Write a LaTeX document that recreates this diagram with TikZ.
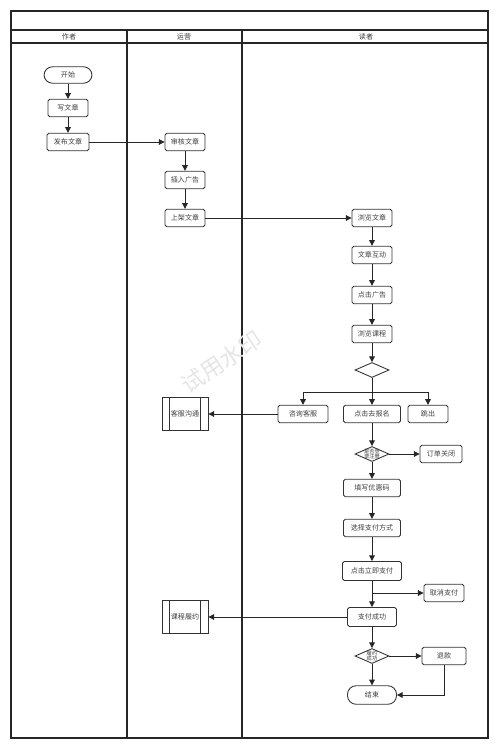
\documentclass[tikz,border=0pt]{standalone}
\usepackage{fontspec}
\setmainfont{Noto Sans CJK SC}
\usetikzlibrary{shapes.geometric,arrows.meta}
\begin{document}
\begin{tikzpicture}[x=0.02cm,y=-0.02cm,
  font=\fontsize{4}{4.6}\selectfont,
  box/.style={draw=black!80,rounded corners=1pt,line width=0.5pt,minimum height=0.35cm,minimum width=0.8cm,inner sep=0pt,fill=white,text=black!75},
  term/.style={box,rounded corners=0.17cm},
  dec/.style={draw=black!80,diamond,line width=0.5pt,minimum width=0.68cm,minimum height=0.3cm,inner sep=0pt,fill=white},
  dtext/.style={font=\fontsize{3}{3.3}\selectfont,align=center,text=black!75,inner sep=0pt},
  pproc/.style={box,rounded corners=0pt,minimum width=0.92cm,minimum height=0.66cm},
  arr/.style={-{Triangle[length=3.2pt,width=3.2pt]},line width=0.5pt,draw=black!85},
  lane/.style={line width=0.6pt,draw=black!85},
  head/.style={text=black!75,inner sep=0pt}]
\useasboundingbox (0,0) rectangle (500,750);
% frame
\draw[lane] (11,11) rectangle (488,738);
\draw[lane] (11,30) -- (488,30);
\draw[lane] (11,43) -- (488,43);
\draw[lane] (127,30) -- (127,738);
\draw[lane] (242,30) -- (242,738);
\node[head] (h1) at (69,37) {作者};
\node[head] (h2) at (184,37) {运营};
\node[head] (h3) at (366,37) {读者};
% watermark
\node[text=black!10,rotate=34,font=\fontsize{13}{13}\selectfont] (wm) at (222,362) {试用水印};
% author lane
\node[term,minimum width=0.96cm,minimum height=0.33cm] (start) at (68,75) {开始};
\node[box] (write) at (68,108) {写文章};
\node[box,minimum width=0.84cm] (pub) at (68,142) {发布文章};
% ops lane
\node[box] (audit) at (185,142) {审核文章};
\node[box] (ad) at (185,180) {插入广告};
\node[box] (shelf) at (185,218) {上架文章};
\node[pproc] (kf) at (185,414) {客服沟通};
\draw[line width=0.5pt,draw=black!80] ([xshift=0.16cm]kf.north west) -- ([xshift=0.16cm]kf.south west);
\draw[line width=0.5pt,draw=black!80] ([xshift=-0.16cm]kf.north east) -- ([xshift=-0.16cm]kf.south east);
\node[pproc] (ly) at (185,617) {课程履约};
\draw[line width=0.5pt,draw=black!80] ([xshift=0.16cm]ly.north west) -- ([xshift=0.16cm]ly.south west);
\draw[line width=0.5pt,draw=black!80] ([xshift=-0.16cm]ly.north east) -- ([xshift=-0.16cm]ly.south east);
% reader lane
\node[box] (browse) at (372,218) {浏览文章};
\node[box] (inter) at (372,255) {文章互动};
\node[box] (clickad) at (372,295) {点击广告};
\node[box] (course) at (372,334) {浏览课程};
\node[dec] (d1) at (372,370) {};
\coordinate (br) at (372,392);
\node[box,minimum width=1cm] (zx) at (303,414) {咨询客服};
\node[box,minimum width=1.14cm] (bm) at (372,414) {点击去报名};
\node[box] (tc) at (428,414) {跳出};
\node[dec] (d2) at (372,454) {};
\node[dtext] (d2t) at (372,454) {是否登\\录注册};
\node[box,minimum width=0.84cm] (close) at (441,454) {订单关闭};
\node[box,minimum width=1.14cm] (yhm) at (372,488) {填写优惠码};
\node[box,minimum width=1.14cm] (zffs) at (372,528) {选择支付方式};
\node[box,minimum width=1.18cm,minimum height=0.38cm] (pay) at (372,571) {点击立即支付};
\node[box] (cancel) at (444,593) {取消支付};
\node[box,minimum width=0.98cm,minimum height=0.38cm] (succ) at (372,617) {支付成功};
\node[dec] (d3) at (372,656) {};
\node[dtext] (d3t) at (372,656) {履约\\成功};
\node[box,minimum width=0.88cm] (tk) at (444,656) {退款};
\node[term,minimum width=0.98cm,minimum height=0.37cm] (end) at (372,695) {结束};
% connectors
\draw[arr] (start) -- (write);
\draw[arr] (write) -- (pub);
\draw[arr] (pub) -- (audit);
\draw[arr] (audit) -- (ad);
\draw[arr] (ad) -- (shelf);
\draw[arr] (shelf) -- (browse);
\draw[arr] (browse) -- (inter);
\draw[arr] (inter) -- (clickad);
\draw[arr] (clickad) -- (course);
\draw[arr] (course) -- (d1);
\draw[line width=0.5pt,draw=black!85] (d1.south) -- (br);
\draw[arr] (br) -| (zx.north);
\draw[arr] (br) -| (tc.north);
\draw[arr] (br) -- (bm.north);
\draw[arr] (zx) -- (kf);
\draw[arr] (bm) -- (d2);
\draw[arr] (d2) -- (close);
\draw[arr] (d2) -- (yhm);
\draw[arr] (yhm) -- (zffs);
\draw[arr] (zffs) -- (pay);
\draw[arr] (pay) -- (succ);
\draw[arr] (pay.south |- cancel.west) -- (cancel.west);
\draw[arr] (succ) -- (ly);
\draw[arr] (succ) -- (d3);
\draw[arr] (d3) -- (tk);
\draw[arr] (d3) -- (end);
\draw[arr] (tk.south) |- (end.east);
\end{tikzpicture}
\end{document}
